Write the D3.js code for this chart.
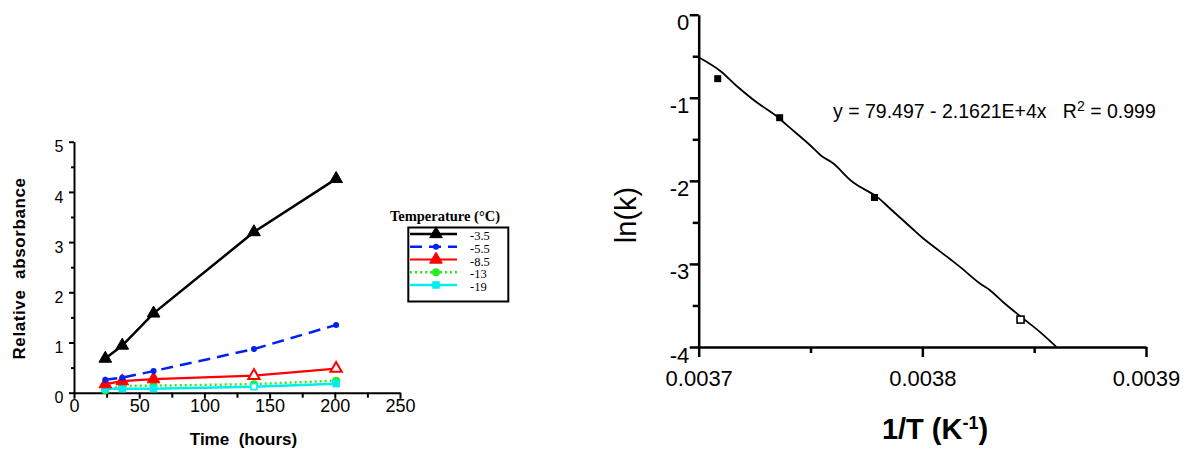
<!DOCTYPE html>
<html>
<head>
<meta charset="utf-8">
<script src="https://cdn.jsdelivr.net/npm/d3@7"></script>
<style>
  body { margin: 0; background: #fff; }
  text { font-family: "Liberation Sans", Arial, sans-serif; }
</style>
</head>
<body>
<script>
// left panel data: relative absorbance vs time
var hours = [24, 37, 61, 138, 201];
var temps = ["-3.5", "-5.5", "-8.5", "-13", "-19"];
var abs35 = [0.68, 0.94, 1.58, 3.20, 4.26];
var abs55 = [0.26, 0.30, 0.43, 0.87, 1.35];
var abs85 = [0.17, 0.23, 0.27, 0.34, 0.48];
var abs13 = [0.05, 0.14, 0.14, 0.17, 0.24];
var abs19 = [0.08, 0.08, 0.08, 0.12, 0.18];

// right panel data: Arrhenius plot
var invT = [0.0037085, 0.0037362, 0.0037786, 0.0038439];
var lnK = [-0.77, -1.24, -2.20, -3.67];
// fitted line
var fitX = [0.0037000, 0.0037095, 0.0037170, 0.0037259, 0.0037342, 0.0037393, 0.0037497,
  0.0037549, 0.0037601, 0.0037690, 0.0037796, 0.0037854, 0.0037958, 0.0038003, 0.0038129,
  0.0038167, 0.0038256, 0.0038301, 0.0038367, 0.0038449, 0.0038524, 0.0038598];
var fitY = [-0.513, -0.674, -0.858, -1.054, -1.207, -1.327, -1.568,
  -1.700, -1.789, -2.017, -2.190, -2.330, -2.583, -2.691, -2.952,
  -3.033, -3.233, -3.314, -3.474, -3.654, -3.815, -3.996];

var svgWidth = 1191;
var svgHeight = 451;

var plain = d => String(d);

var svg = d3.select("body")
  .append("svg")
  .attr("width", svgWidth)
  .attr("height", svgHeight);

svg.append("rect")
  .attr("width", svgWidth)
  .attr("height", svgHeight)
  .attr("fill", "#fff");

// ---------- left chart ----------
var x1 = d3.scaleLinear().domain([0, 250]).range([74, 400]);
var y1 = d3.scaleLinear().domain([0, 5]).range([392.7, 141.7]);

var left = svg.append("g");

left.append("g")
  .attr("transform", "translate(74,0)")
  .call(d3.axisLeft(y1).tickValues([0.5, 1.5, 2.5, 3.5, 4.5]).tickSize(3).tickFormat(""))
  .call(g => g.select(".domain").remove());

left.append("g")
  .attr("transform", "translate(0,392.7)")
  .call(d3.axisBottom(x1).tickValues([25, 75, 125, 175, 225]).tickSize(5).tickFormat(""))
  .call(g => g.select(".domain").remove());

var yAxis1 = left.append("g")
  .attr("transform", "translate(74,0)")
  .call(d3.axisLeft(y1).tickValues([0, 1, 2, 3, 4, 5]).tickSize(5).tickSizeOuter(0)
    .tickPadding(5.5).tickFormat(plain));
yAxis1.selectAll("text").attr("y", 5).attr("font-size", "16px").attr("font-family", "Liberation Sans");

var xAxis1 = left.append("g")
  .attr("transform", "translate(0,392.7)")
  .call(d3.axisBottom(x1).tickValues([0, 50, 100, 150, 200, 250]).tickSize(6).tickSizeOuter(0)
    .tickPadding(1).tickFormat(plain));
xAxis1.selectAll("text").attr("font-size", "18px").attr("font-family", "Liberation Sans");

left.selectAll(".domain, .tick line").attr("stroke", "#000").attr("stroke-width", 2);

var series = [
  { name: temps[0], vals: abs35, color: "#000", width: 2.5, dash: null, marker: "triangle" },
  { name: temps[1], vals: abs55, color: "#0022ee", width: 2.5, dash: "12,7", marker: "dot" },
  { name: temps[2], vals: abs85, color: "#ff0000", width: 2.2, dash: null, marker: "triangle" },
  { name: temps[3], vals: abs13, color: "#22ee22", width: 2.5, dash: "2,3", marker: "circle" },
  { name: temps[4], vals: abs19, color: "#00eeee", width: 2.5, dash: null, marker: "square" }
];

var line1 = d3.line()
  .x((d, i) => x1(hours[i]))
  .y(d => y1(d));

function drawMarker(g, type, color, cx, cy, open) {
  var fill = open ? "#fff" : color;
  if (type == "triangle") {
    g.append("path")
      .attr("d", d3.symbol().type(d3.symbolTriangle).size(open ? 55 : 70)())
      .attr("transform", `translate(${cx},${cy})`)
      .attr("fill", fill)
      .attr("stroke", color)
      .attr("stroke-width", open ? 2 : 1);
  } else if (type == "square") {
    g.append("rect")
      .attr("x", cx - 3).attr("y", cy - 3)
      .attr("width", 6).attr("height", 6)
      .attr("fill", fill)
      .attr("stroke", color)
      .attr("stroke-width", 1.5);
  } else {
    g.append("circle")
      .attr("cx", cx).attr("cy", cy)
      .attr("r", type == "dot" ? 3 : 4)
      .attr("fill", fill);
  }
}

[3, 4, 2, 1, 0].forEach(function(k) {
  var s = series[k];
  left.append("path")
    .datum(s.vals)
    .attr("d", line1)
    .attr("fill", "none")
    .attr("stroke", s.color)
    .attr("stroke-width", s.width)
    .attr("stroke-dasharray", s.dash);
  s.vals.forEach(function(v, i) {
    var open = (k == 2 && i >= 3) || (k == 4 && i == 3);
    drawMarker(left, s.marker, s.color, x1(hours[i]), y1(v), open);
  });
});

left.append("text")
  .attr("transform", "translate(25,268.5) rotate(-90)")
  .attr("text-anchor", "middle")
  .attr("font-size", "17px")
  .attr("font-weight", "bold")
  .attr("letter-spacing", "0.6px")
  .style("white-space", "pre")
  .text("Relative  absorbance");

left.append("text")
  .attr("x", 243.5)
  .attr("y", 445)
  .attr("text-anchor", "middle")
  .attr("font-size", "17px")
  .attr("font-weight", "bold")
  .style("white-space", "pre")
  .text("Time  (hours)");

// legend
var legend = svg.append("g");
legend.append("text")
  .attr("x", 445)
  .attr("y", 221)
  .attr("text-anchor", "middle")
  .style("font-family", "Liberation Serif")
  .attr("font-size", "14.5px")
  .attr("font-weight", "bold")
  .text("Temperature (°C)");

legend.append("rect")
  .attr("x", 408.3).attr("y", 227.5)
  .attr("width", 100).attr("height", 74)
  .attr("fill", "none")
  .attr("stroke", "#000")
  .attr("stroke-width", 2);

series.forEach(function(s, i) {
  var ry = 234 + i * 12.75;
  legend.append("line")
    .attr("x1", 410).attr("x2", 457)
    .attr("y1", ry).attr("y2", ry)
    .attr("stroke", s.color)
    .attr("stroke-width", s.width)
    .attr("stroke-dasharray", s.dash);
  drawMarker(legend, s.marker, s.color, 436, ry, false);
  legend.append("text")
    .attr("x", 470)
    .attr("y", ry + 6)
    .style("font-family", "Liberation Serif")
    .attr("font-size", "12.5px")
    .text(s.name);
});

// ---------- right chart ----------
var x2 = d3.scaleLinear().domain([0.0037, 0.0039]).range([698.7, 1146]);
var y2 = d3.scaleLinear().domain([-4, 0]).range([347, 14.7]);

var right = svg.append("g");

right.append("g")
  .attr("transform", "translate(698.7,0)")
  .call(d3.axisLeft(y2).tickValues([-3.5, -2.5, -1.5, -0.5]).tickSize(6).tickFormat(""))
  .call(g => g.select(".domain").remove());

right.append("g")
  .attr("transform", "translate(0,347)")
  .call(d3.axisBottom(x2).tickValues([0.00375, 0.00385]).tickSize(6).tickFormat(""))
  .call(g => g.select(".domain").remove());

var yAxis2 = right.append("g")
  .attr("transform", "translate(698.7,0)")
  .call(d3.axisLeft(y2).tickValues([-4, -3, -2, -1, 0]).tickSize(9).tickSizeOuter(0)
    .tickPadding(0.5).tickFormat(plain));
yAxis2.selectAll("text").attr("y", 8).attr("font-size", "22px").attr("font-family", "Liberation Sans");

var xAxis2 = right.append("g")
  .attr("transform", "translate(0,347)")
  .call(d3.axisBottom(x2).tickValues([0.0037, 0.0038, 0.0039]).tickSize(10).tickSizeOuter(0)
    .tickPadding(13.4).tickFormat(d3.format(".4f")));
xAxis2.selectAll("text").attr("font-size", "22px").attr("font-family", "Liberation Sans");

right.selectAll(".domain, .tick line").attr("stroke", "#000").attr("stroke-width", 2.5);

var fitLine = d3.line()
  .x((d, i) => x2(fitX[i]))
  .y(d => y2(d))
  .curve(d3.curveCatmullRom);

right.append("path")
  .datum(fitY)
  .attr("d", fitLine)
  .attr("fill", "none")
  .attr("stroke", "#000")
  .attr("stroke-width", 1.8);

right.selectAll("rect.pt")
  .data(lnK)
  .enter()
  .append("rect")
  .attr("class", "pt")
  .attr("x", (d, i) => x2(invT[i]) - 3.5)
  .attr("y", d => y2(d) - 3.5)
  .attr("width", 7)
  .attr("height", 7)
  .attr("fill", (d, i) => i == 3 ? "#fff" : "#000")
  .attr("stroke", "#000")
  .attr("stroke-width", (d, i) => i == 3 ? 1.6 : 0);

var eq = right.append("text")
  .attr("x", 833)
  .attr("y", 117.5)
  .attr("font-size", "19.5px")
  .style("white-space", "pre");
eq.append("tspan").text("y = 79.497 - 2.1621E+4x   R");
eq.append("tspan").attr("dy", -7).attr("font-size", "14px").text("2");
eq.append("tspan").attr("dy", 7).text(" = 0.999");

right.append("text")
  .attr("transform", "translate(636,215) rotate(-90)")
  .attr("text-anchor", "middle")
  .attr("font-size", "29px")
  .text("ln(k)");

var xt = right.append("text")
  .attr("x", 935)
  .attr("y", 439.3)
  .attr("text-anchor", "middle")
  .attr("font-size", "29px")
  .attr("font-weight", "bold");
xt.append("tspan").text("1/T (K");
xt.append("tspan").attr("dy", -10).attr("font-size", "18px").text("-1");
xt.append("tspan").attr("dy", 10).text(")");
</script>
</body>
</html>
